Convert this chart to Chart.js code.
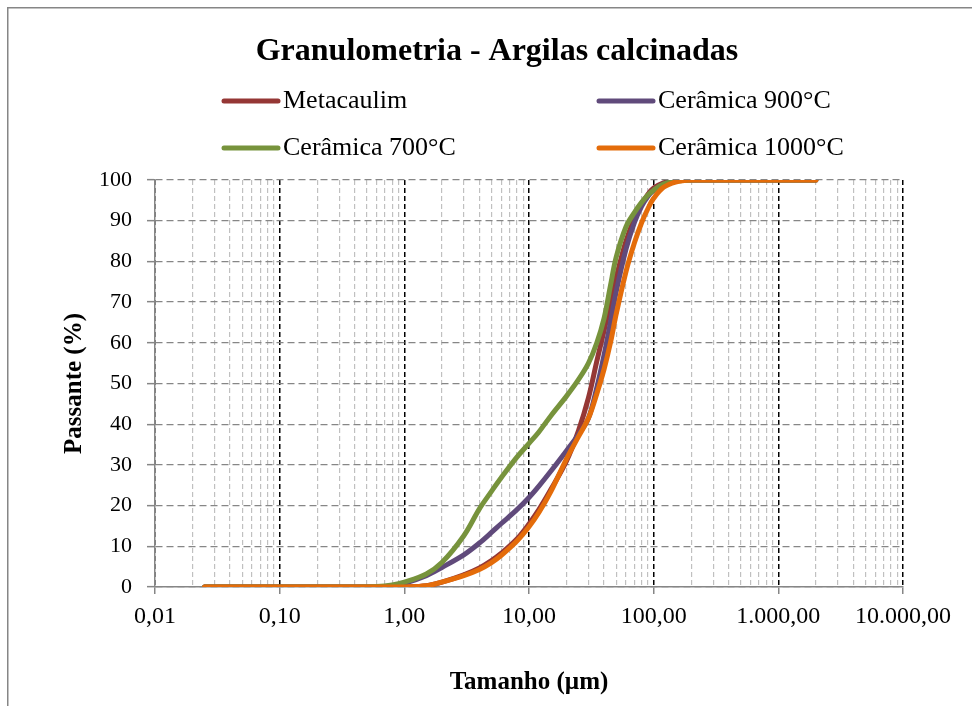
<!DOCTYPE html>
<html>
<head>
<meta charset="utf-8">
<script src="https://cdn.jsdelivr.net/npm/chart.js@4/dist/chart.umd.min.js"></script>
<style>
html,body{margin:0;padding:0;background:#fff;}
canvas{display:block;}
</style>
</head>
<body>
<canvas id="c" width="972" height="706"></canvas>
<script>
// ---- data ----
const chartTitle = 'Granulometria - Argilas calcinadas';
const xAxisTitle = 'Tamanho (µm)';
const yAxisTitle = 'Passante (%)';
const seriesNames = ['Metacaulim', 'Cerâmica 900°C', 'Cerâmica 700°C', 'Cerâmica 1000°C'];
const seriesColors = ['#953735', '#604a7b', '#77933c', '#e46c0a'];

const sizes = [0.025, 0.05, 0.1, 0.2, 0.4, 0.6, 0.8, 1, 1.5, 2, 3, 4, 5, 6, 8, 10, 12, 15, 20, 25, 30, 35, 40, 45, 50, 60, 70, 80, 90, 100, 120, 150, 200, 300, 500, 1000, 2000];

const metacaulim = [0, 0, 0, 0, 0, 0, 0, 0, 0.3, 1.2, 3, 4.7, 6.5, 8.3, 11.8, 15.5, 19, 24, 31, 38.5, 46.5, 55.5, 63, 70, 76, 85, 90.5, 94, 96.5, 98, 99.3, 99.9, 100, 100, 100, 100, 100];
const ceramica900 = [0, 0, 0, 0, 0, 0, 0.3, 0.9, 2.8, 4.8, 7.9, 10.8, 13.4, 15.6, 19, 22, 24.8, 28.5, 33.5, 37.5, 41.5, 49, 57, 65, 72.5, 83, 89.5, 93.5, 96, 97.5, 99, 99.8, 100, 100, 100, 100, 100];
const ceramica700 = [0, 0, 0, 0, 0, 0.1, 0.5, 1.2, 3.2, 6, 12.6, 19.2, 23.5, 26.9, 31.9, 35.3, 38.1, 42.1, 46.9, 51, 55, 60, 66, 74, 81, 88.5, 92, 94.5, 96.3, 97.5, 99, 99.7, 100, 100, 100, 100, 100];
const ceramica1000 = [0, 0, 0, 0, 0, 0, 0, 0, 0.3, 1.2, 2.8, 4.3, 6, 7.8, 11.3, 14.8, 18.3, 23.5, 31.5, 37, 41.5, 47.5, 53.5, 60, 67, 77.5, 84.5, 89.5, 93, 95.5, 98.2, 99.5, 100, 100, 100, 100, 100];

const seriesValues = [metacaulim, ceramica900, ceramica700, ceramica1000];

const xMajorValues = [0.01, 0.1, 1, 10, 100, 1000, 10000];
const xMajorLabels = ['0,01', '0,10', '1,00', '10,00', '100,00', '1.000,00', '10.000,00'];
const yTickValues = [0, 10, 20, 30, 40, 50, 60, 70, 80, 90, 100];

// ---- helpers ----
const FONT = '"Liberation Serif", "Times New Roman", serif';
function isMajor(v) { return xMajorValues.some(m => Math.abs(m - v) / m < 1e-9); }
function buildXTicks() {
  const t = [];
  for (let e = -2; e <= 4; e++) {
    for (let s = 1; s <= 9; s++) {
      const v = +(s * Math.pow(10, e)).toPrecision(6);
      if (v > 10000) break;
      t.push({ value: v, major: s === 1 });
      if (e === 4) break;
    }
  }
  return t;
}

const datasets = seriesNames.map((name, i) => ({
  label: name,
  data: sizes.map((x, j) => ({ x: x, y: seriesValues[i][j] })),
  borderColor: seriesColors[i],
  backgroundColor: seriesColors[i],
  borderWidth: 5,
  pointRadius: 0,
  showLine: true,
  fill: false,
  tension: 0.35,
  borderCapStyle: 'round',
  borderJoinStyle: 'round',
  order: seriesNames.length - i
}));

const decorPlugin = {
  id: 'decor',
  beforeDraw(chart) {
    const ctx = chart.ctx;
    ctx.save();
    ctx.fillStyle = '#fff';
    ctx.fillRect(0, 0, chart.width, chart.height);
    ctx.strokeStyle = '#868686';
    ctx.lineWidth = 1.5;
    ctx.beginPath();
    ctx.moveTo(7.75, chart.height + 5);
    ctx.lineTo(7.75, 7.75);
    ctx.lineTo(chart.width + 5, 7.75);
    ctx.stroke();
    ctx.restore();
  },
  afterDraw(chart) {
    const ctx = chart.ctx;
    ctx.save();
    // title
    ctx.fillStyle = '#000';
    ctx.font = 'bold 32px ' + FONT;
    ctx.textAlign = 'center';
    ctx.textBaseline = 'alphabetic';
    ctx.fillText(chartTitle, 497, 60);
    // legend (2 columns, row-major)
    const colX = [222, 597];
    const rowY = [101, 148];
    ctx.font = '26px ' + FONT;
    ctx.textAlign = 'left';
    ctx.textBaseline = 'middle';
    chart.data.datasets.forEach((ds, i) => {
      const x = colX[i % 2];
      const y = rowY[Math.floor(i / 2)];
      ctx.strokeStyle = ds.borderColor;
      ctx.lineWidth = 5;
      ctx.lineCap = 'round';
      ctx.beginPath();
      ctx.moveTo(x + 2, y);
      ctx.lineTo(x + 56, y);
      ctx.stroke();
      ctx.fillStyle = '#000';
      ctx.fillText(ds.label, x + 61, y);
    });
    ctx.restore();
  }
};

new Chart(document.getElementById('c'), {
  type: 'scatter',
  data: { datasets: datasets },
  plugins: [decorPlugin],
  options: {
    responsive: false,
    animation: false,
    devicePixelRatio: 1,
    layout: { padding: { left: 0, top: 180, right: 69, bottom: 0 } },
    plugins: {
      legend: { display: false },
      title: { display: false },
      tooltip: { enabled: false }
    },
    scales: {
      x: {
        type: 'logarithmic',
        min: 0.01,
        max: 10000,
        afterBuildTicks: (axis) => { axis.ticks = buildXTicks(); },
        afterFit: (axis) => { axis.height = 119; },
        ticks: {
          autoSkip: false,
          maxRotation: 0,
          minRotation: 0,
          padding: 8,
          color: '#000',
          font: { family: FONT, size: 24 },
          callback: (v) => { const k = xMajorValues.findIndex(m => Math.abs(m - v) / m < 1e-9); return k >= 0 ? xMajorLabels[k] : ''; }
        },
        grid: {
          color: (c) => (c.tick && isMajor(c.tick.value)) ? '#000000' : '#c0c0c0',
          lineWidth: (c) => (c.tick && isMajor(c.tick.value)) ? 1.5 : 1.2,
          tickColor: (c) => (c.tick && isMajor(c.tick.value)) ? '#868686' : 'rgba(0,0,0,0)',
          tickLength: 7,
          tickWidth: 1.5,
          tickBorderDash: []
        },
        border: {
          display: true,
          color: '#868686',
          width: 1.5,
          dash: [5, 3]
        },
        title: {
          display: true,
          text: xAxisTitle,
          color: '#000',
          font: { family: FONT, size: 25, weight: 'bold' },
          padding: { top: 0, bottom: 8 }
        }
      },
      y: {
        type: 'linear',
        min: 0,
        max: 100,
        afterBuildTicks: (axis) => { axis.ticks = yTickValues.map(v => ({ value: v })); },
        afterFit: (axis) => { axis.width = 155; },
        ticks: {
          padding: 15,
          color: '#000',
          font: { family: FONT, size: 22 },
          callback: (v) => String(v)
        },
        grid: {
          color: '#868686',
          lineWidth: 1.3,
          tickColor: '#868686',
          tickLength: 8,
          tickWidth: 1.5,
          tickBorderDash: []
        },
        border: {
          display: true,
          color: '#868686',
          width: 1.5,
          dash: [7, 4]
        },
        title: {
          display: true,
          text: yAxisTitle,
          color: '#000',
          font: { family: FONT, size: 25, weight: 'bold' },
          padding: { top: 60, bottom: 0 }
        }
      }
    }
  }
});
</script>
</body>
</html>
